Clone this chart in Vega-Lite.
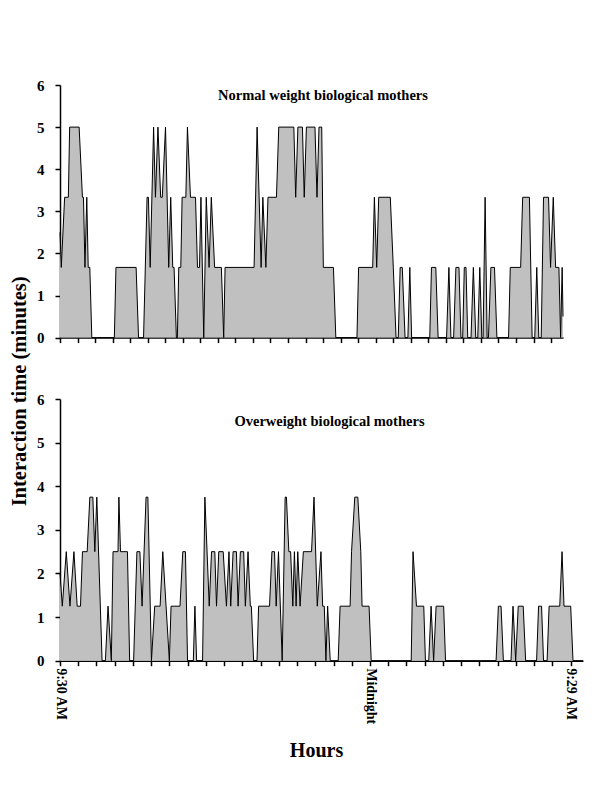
{
  "$schema": "https://vega.github.io/schema/vega-lite/v6.json",
  "padding": {"left": 9, "top": 78, "right": 5, "bottom": 5},
  "background": "white",
  "title": {"text": "Interaction time (minutes)", "orient": "left", "anchor": "middle", "font": "Liberation Serif", "fontSize": 20.5, "fontWeight": "bold", "offset": 6, "dx": 28, "color": "black"},
  "datasets": {
    "normal": [
      {"m":0,"v":2.5},{"m":3.8,"v":1.667},{"m":13.6,"v":3.333},{"m":24.5,"v":3.333},{"m":28.3,"v":5},{"m":56.1,"v":5},{"m":65.8,"v":3.333},{"m":68.8,"v":3.333},{"m":73.2,"v":1.667},{"m":78.5,"v":3.333},{"m":82.7,"v":1.667},{"m":87.4,"v":1.667},{"m":93.3,"v":0},{"m":159.4,"v":0},{"m":164.1,"v":1.667},{"m":223.2,"v":1.667},{"m":230.3,"v":0},{"m":245,"v":0},{"m":255.3,"v":3.333},{"m":259.2,"v":3.333},{"m":264.5,"v":1.667},{"m":274.5,"v":5},{"m":279.9,"v":3.333},{"m":287.2,"v":5},{"m":295.2,"v":3.333},{"m":299.9,"v":3.333},{"m":309.4,"v":5},{"m":318.8,"v":1.667},{"m":324.7,"v":3.333},{"m":330.6,"v":1.667},{"m":334.5,"v":1.667},{"m":341.3,"v":0},{"m":344.2,"v":0},{"m":348.3,"v":1.667},{"m":354.2,"v":1.667},{"m":358.1,"v":3.333},{"m":369,"v":3.333},{"m":373.7,"v":5},{"m":382.6,"v":3.333},{"m":397.3,"v":3.333},{"m":403.2,"v":1.667},{"m":409.1,"v":1.667},{"m":413.3,"v":3.333},{"m":421.5,"v":0},{"m":428.9,"v":3.333},{"m":437.2,"v":1.667},{"m":443.7,"v":3.333},{"m":453.4,"v":1.667},{"m":473.2,"v":1.667},{"m":480,"v":0},{"m":484.1,"v":1.667},{"m":569.1,"v":1.667},{"m":578,"v":5},{"m":589.8,"v":1.667},{"m":594.8,"v":3.333},{"m":603.7,"v":1.667},{"m":609.9,"v":3.333},{"m":634.7,"v":3.333},{"m":641.5,"v":5},{"m":685.7,"v":5},{"m":691.1,"v":3.333},{"m":697.6,"v":5},{"m":710.9,"v":5},{"m":716.2,"v":3.333},{"m":722.6,"v":5},{"m":747.7,"v":5},{"m":753.6,"v":3.333},{"m":759.5,"v":5},{"m":767.5,"v":5},{"m":772.2,"v":1.667},{"m":801.8,"v":1.667},{"m":808.8,"v":0},{"m":870.8,"v":0},{"m":875.6,"v":1.667},{"m":916.9,"v":1.667},{"m":921.9,"v":3.333},{"m":928.7,"v":1.667},{"m":934.6,"v":3.333},{"m":968.6,"v":3.333},{"m":977.4,"v":1.667},{"m":985.4,"v":0},{"m":991.9,"v":0},{"m":997.5,"v":1.667},{"m":1003.7,"v":1.667},{"m":1011.9,"v":0},{"m":1020.2,"v":0},{"m":1025.8,"v":1.667},{"m":1031.1,"v":0},{"m":1084.3,"v":0},{"m":1089.3,"v":1.667},{"m":1102,"v":1.667},{"m":1108.8,"v":0},{"m":1133.6,"v":0},{"m":1140.4,"v":1.667},{"m":1146.3,"v":0},{"m":1154.3,"v":0},{"m":1161,"v":1.667},{"m":1169.9,"v":1.667},{"m":1175.8,"v":0},{"m":1180.8,"v":0},{"m":1185.6,"v":1.667},{"m":1190.6,"v":1.667},{"m":1195.6,"v":0},{"m":1205.3,"v":0},{"m":1212.1,"v":1.667},{"m":1219.2,"v":0},{"m":1225.1,"v":0},{"m":1231,"v":1.667},{"m":1236.9,"v":0},{"m":1240.7,"v":0},{"m":1246.6,"v":3.333},{"m":1252.5,"v":0},{"m":1256.4,"v":0},{"m":1263.5,"v":1.667},{"m":1274.1,"v":1.667},{"m":1281.2,"v":0},{"m":1315.4,"v":0},{"m":1320.4,"v":1.667},{"m":1350.8,"v":1.667},{"m":1356.7,"v":3.333},{"m":1376.5,"v":3.333},{"m":1384.5,"v":0},{"m":1392.2,"v":0},{"m":1398.1,"v":1.667},{"m":1404,"v":0},{"m":1411.1,"v":0},{"m":1417.9,"v":3.333},{"m":1432.6,"v":3.333},{"m":1438.5,"v":1.667},{"m":1446.5,"v":3.333},{"m":1453.3,"v":1.667},{"m":1463,"v":1.667},{"m":1468,"v":0},{"m":1472.5,"v":1.667},{"m":1475,"v":0.5}
    ],
    "overweight": [
      {"m":0,"v":2},{"m":6.5,"v":1.25},{"m":17.7,"v":2.5},{"m":28.1,"v":1.25},{"m":39.3,"v":2.5},{"m":48.5,"v":1.25},{"m":57.8,"v":1.25},{"m":63.4,"v":2.5},{"m":76.6,"v":2.5},{"m":84.2,"v":3.75},{"m":92.6,"v":3.75},{"m":98.2,"v":2.5},{"m":103.8,"v":3.75},{"m":118.7,"v":0},{"m":128,"v":0},{"m":135.5,"v":1.25},{"m":144.8,"v":0},{"m":149.6,"v":2.5},{"m":163.6,"v":2.5},{"m":166.1,"v":3.75},{"m":170.6,"v":2.5},{"m":190.2,"v":2.5},{"m":196.4,"v":0},{"m":207.6,"v":0},{"m":216.9,"v":2.5},{"m":225.3,"v":2.5},{"m":231.5,"v":1.25},{"m":242.7,"v":3.75},{"m":247.8,"v":3.75},{"m":257.9,"v":0},{"m":267.1,"v":1.25},{"m":282.3,"v":1.25},{"m":289.9,"v":2.5},{"m":308.4,"v":0},{"m":313.2,"v":1.25},{"m":338.4,"v":1.25},{"m":346.3,"v":2.5},{"m":353.8,"v":2.5},{"m":359.7,"v":0},{"m":376,"v":0},{"m":380.5,"v":1.25},{"m":385.3,"v":0},{"m":402.1,"v":0},{"m":408.6,"v":3.75},{"m":420.9,"v":1.25},{"m":427.4,"v":2.5},{"m":436.6,"v":2.5},{"m":441.4,"v":1.25},{"m":447.8,"v":2.5},{"m":460.2,"v":2.5},{"m":469.4,"v":1.25},{"m":476.5,"v":2.5},{"m":481.5,"v":1.25},{"m":488.2,"v":2.5},{"m":497.5,"v":2.5},{"m":502.3,"v":1.25},{"m":508.7,"v":2.5},{"m":518,"v":2.5},{"m":522.8,"v":1.25},{"m":530.3,"v":2.5},{"m":536.8,"v":1.25},{"m":539.6,"v":1.25},{"m":546.1,"v":0},{"m":555.6,"v":0},{"m":560.1,"v":1.25},{"m":590.9,"v":1.25},{"m":597.7,"v":2.5},{"m":605,"v":2.5},{"m":609.7,"v":1.25},{"m":616.2,"v":2.5},{"m":626.6,"v":0},{"m":635,"v":3.75},{"m":638.6,"v":3.75},{"m":645.4,"v":2.5},{"m":650.4,"v":2.5},{"m":656.6,"v":1.25},{"m":661.1,"v":2.5},{"m":665.9,"v":1.25},{"m":670.6,"v":2.5},{"m":677.1,"v":1.25},{"m":686.3,"v":2.5},{"m":709.4,"v":2.5},{"m":716.4,"v":3.75},{"m":725.6,"v":1.25},{"m":736,"v":2.5},{"m":740.8,"v":1.25},{"m":745.3,"v":1.25},{"m":750,"v":0},{"m":754.8,"v":1.25},{"m":762.1,"v":0},{"m":784.6,"v":0},{"m":789.9,"v":1.25},{"m":818.2,"v":1.25},{"m":822.2,"v":2.5},{"m":831.4,"v":3.75},{"m":839.9,"v":3.75},{"m":848.3,"v":2.5},{"m":851.9,"v":1.25},{"m":871.6,"v":1.25},{"m":877.7,"v":0},{"m":990.5,"v":0},{"m":995.6,"v":2.5},{"m":1005.4,"v":1.25},{"m":1025.9,"v":1.25},{"m":1030.6,"v":0},{"m":1039.9,"v":0},{"m":1046.6,"v":1.25},{"m":1053.7,"v":0},{"m":1060.7,"v":1.25},{"m":1082,"v":1.25},{"m":1087.3,"v":0},{"m":1229.9,"v":0},{"m":1236.3,"v":1.25},{"m":1243.9,"v":1.25},{"m":1250.4,"v":0},{"m":1272,"v":0},{"m":1277.6,"v":1.25},{"m":1285.1,"v":0},{"m":1292.4,"v":1.25},{"m":1306.4,"v":1.25},{"m":1313.2,"v":0},{"m":1344.1,"v":0},{"m":1349.7,"v":1.25},{"m":1358.1,"v":1.25},{"m":1363.7,"v":0},{"m":1373.8,"v":0},{"m":1379.4,"v":1.25},{"m":1409.4,"v":1.25},{"m":1415.9,"v":2.5},{"m":1421.5,"v":1.25},{"m":1440.3,"v":1.25},{"m":1446.8,"v":0},{"m":1475,"v":0}
    ]
  },
  "spacing": 46,
  "vconcat": [
    {
      "width": 503,
      "height": 252.6,
      "data": {"name": "normal"},
      "title": {"text": "Normal weight biological mothers", "font": "Liberation Serif", "fontSize": 14.5, "fontWeight": "bold", "color": "black", "anchor": "middle", "frame": "group", "offset": -25, "dx": 11.5},
      "mark": {"type": "area", "color": "#c0c0c0", "opacity": 1, "line": {"color": "black", "strokeWidth": 1}},
      "encoding": {
        "x": {"field": "m", "type": "quantitative", "scale": {"domain": [0, 1475], "nice": false, "zero": false},
          "axis": {"title": null, "labels": false, "values": [0,51.43,102.86,154.29,205.71,257.14,308.57,360,411.43,462.86,514.29,565.71,617.14,668.57,720,771.43,822.86,874.29,925.71,977.14,1028.57,1080,1131.43,1182.86,1234.29,1285.71,1337.14,1388.57,1440]}},
        "y": {"field": "v", "type": "quantitative", "scale": {"domain": [0, 6], "nice": false},
          "axis": {"title": null, "values": [0,1,2,3,4,5,6], "labelPadding": 11}}
      }
    },
    {
      "width": 523,
      "height": 261.7,
      "data": {"name": "overweight"},
      "title": {"text": "Overweight biological mothers", "font": "Liberation Serif", "fontSize": 14.5, "fontWeight": "bold", "color": "black", "anchor": "middle", "frame": "group", "offset": -37, "dx": 8},
      "mark": {"type": "area", "color": "#c0c0c0", "opacity": 1, "line": {"color": "black", "strokeWidth": 1}},
      "encoding": {
        "x": {"field": "m", "type": "quantitative", "scale": {"domain": [0, 1475], "nice": false, "zero": false},
          "axis": {"title": "Hours", "titlePadding": 17, "titleFontSize": 20, "titleX": 256, "labelAngle": 90, "labelFontSize": 14, "labelPadding": 2,
            "values": [0,51.43,102.86,154.29,205.71,257.14,308.57,360,411.43,462.86,514.29,565.71,617.14,668.57,720,771.43,822.86,874.29,925.71,977.14,1028.57,1080,1131.43,1182.86,1234.29,1285.71,1337.14,1388.57,1440],
            "labelExpr": "datum.value == 0 ? '9:30 AM' : (abs(datum.value - 874.29) < 1 ? 'Midnight' : (datum.value >= 1439 ? '9:29 AM' : ''))"}},
        "y": {"field": "v", "type": "quantitative", "scale": {"domain": [0, 6], "nice": false},
          "axis": {"title": null, "values": [0,1,2,3,4,5,6], "labelPadding": 11}}
      }
    }
  ],
  "config": {
    "view": {"stroke": null},
    "axis": {"grid": false, "domainColor": "black", "domainWidth": 1.5, "tickColor": "black", "tickWidth": 1.5, "tickSize": 5, "labelColor": "black", "labelFont": "Liberation Serif", "labelFontWeight": "bold", "labelFontSize": 15, "minExtent": 0, "titleFont": "Liberation Serif", "titleFontWeight": "bold", "titleFontSize": 19, "titleColor": "black", "labelOverlap": false}
  }
}
